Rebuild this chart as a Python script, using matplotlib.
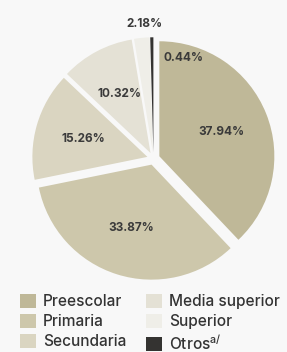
import matplotlib.pyplot as plt
import numpy as np

# datos
categorias = ['Preescolar', 'Primaria', 'Secundaria', 'Media superior', 'Superior', 'Otros$^{\\mathregular{a/}}$']
valores = [37.94, 33.87, 15.26, 10.32, 2.18, 0.44]
colores = ['#bfb898', '#cdc7ab', '#dad5c1', '#e4e1d5', '#efeee8', '#343331']

plt.rcParams['font.family'] = ['Inter', 'DejaVu Sans']
fondo = '#f8f8f8'

fig = plt.figure(figsize=(2.87, 3.52), dpi=100, facecolor=fondo)
ax = fig.add_axes([0.094, 0.19, 0.8815, 0.7188])
ax.set_facecolor(fondo)

wedges, _ = ax.pie(valores, colors=colores, startangle=90, counterclock=False,
                   explode=[0.055] * len(valores), radius=1.0,
                   wedgeprops=dict(linewidth=0))
ax.set_xlim(-1.1, 1.1)
ax.set_ylim(-1.1, 1.1)

# etiquetas
for i, (w, v) in enumerate(zip(wedges, valores)):
    ang = np.deg2rad((w.theta1 + w.theta2) / 2)
    cx, cy = w.center
    d = 0.58
    x, y = cx + d * np.cos(ang), cy + d * np.sin(ang)
    if i == 4:
        x, y = cx + 1.12 * np.cos(ang) + 0.03, cy + 1.12 * np.sin(ang)
    if i == 5:
        x, y = cx + 0.26, cy + 0.82
    ax.text(x, y, f'{v:.2f}%', ha='center', va='center', fontsize=8.5,
            fontweight='bold', color='#3a3a3a')

fig.legend(wedges, categorias, loc='upper left', bbox_to_anchor=(0.07, 0.166),
           ncol=2, frameon=False, handlelength=1.05, handleheight=1.05,
           handletextpad=0.45, columnspacing=1.25, labelspacing=0.3, borderpad=0,
           borderaxespad=0, labelcolor='#333333',
           prop=dict(size=11.1, weight='medium'))

fig.savefig('out.png', dpi=100, facecolor=fondo)
